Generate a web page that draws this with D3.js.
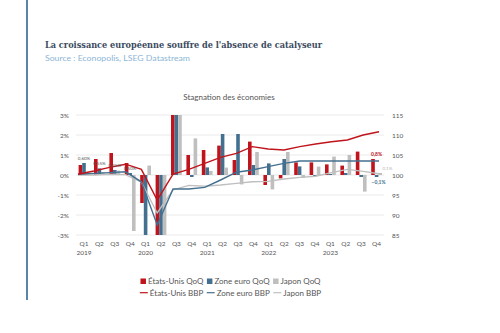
<!DOCTYPE html>
<html><head><meta charset="utf-8">
<script src="https://cdn.jsdelivr.net/npm/d3@7"></script>
<style>html,body{margin:0;padding:0;background:#fff}</style>
</head><body>
<script>
const quarters = ["Q1","Q2","Q3","Q4","Q1","Q2","Q3","Q4","Q1","Q2","Q3","Q4","Q1","Q2","Q3","Q4","Q1","Q2","Q3","Q4"];
const years = ["2019","","","","2020","","","","2021","","","","2022","","","","2023","","",""];
const usQoQ = [0.5,0.8,1.1,0.6,-1.4,-7.9,7.8,1.0,1.25,1.47,0.75,1.67,-0.5,-0.17,0.63,0.63,0.53,0.47,1.17,0.8];
const ezQoQ = [0.6,0.33,0.25,0.1,-3.7,-11.6,12.5,-0.1,0.38,2.05,2.05,0.5,0.58,0.8,0.43,-0.05,0.05,0.1,-0.1,-0.1];
const jpQoQ = [0.13,0.15,0.22,-2.8,0.47,-7.9,5.3,1.83,0.2,0.37,-0.47,1.15,-0.72,1.15,-0.15,0.42,0.92,1.0,-0.83,0.1];
const usBBP = [100.2,101.0,101.9,102.7,101.4,93.75,100.2,101.4,102.9,104.4,105.4,107.1,106.5,106.25,107.1,107.75,108.3,108.75,110.0,110.8];
const ezBBP = [100.2,100.4,100.6,100.8,98.3,87.5,96.5,96.5,96.9,98.75,100.7,101.25,102.1,102.9,103.5,103.5,103.5,103.5,103.5,103.5];
const jpBBP = [100.0,100.0,100.2,100.1,98.2,90.5,96.3,97.4,97.2,97.5,97.9,98.3,98.4,99.0,99.4,99.7,100.6,101.4,100.9,100.3];
const leftTicks = [-3,-2,-1,0,1,2,3];
const rightTicks = [85,90,95,100,105,110,115];
const earlyLabels = ["0,60%","0,55%","0,45%","0,50%"];
const seriesBar = ["États-Unis QoQ","Zone euro QoQ","Japon QoQ"];
const seriesLine = ["États-Unis BBP","Zone euro BBP","Japon BBP"];
const colors = ["#c0141c","#44708f","#bfbfbf"];

const W=500,H=333;
const svg=d3.select("body").append("svg").attr("width",W).attr("height",H).style("font-family","Lato, 'Open Sans', sans-serif");
svg.append("rect").attr("width",W).attr("height",H).attr("fill","#fff");
svg.append("line").attr("x1",27).attr("x2",27).attr("y1",0).attr("y2",300).attr("stroke","#5a85a8").attr("stroke-width",2);

const t=svg.append("text").attr("x",45).attr("y",48).text("La croissance européenne souffre de l'absence de catalyseur")
  .attr("font-family","'DejaVu Serif', serif").attr("font-weight","bold").attr("font-size",10).attr("fill","#3a4a5e");
t.attr("textLength",277).attr("lengthAdjust","spacingAndGlyphs");
svg.append("text").attr("x",45).attr("y",61).text("Source : Econopolis, LSEG Datastream")
  .attr("font-size",7).attr("fill","#8db6d6").attr("textLength",145).attr("lengthAdjust","spacingAndGlyphs");

svg.append("text").attr("x",229).attr("y",100).attr("text-anchor","middle").text("Stagnation des économies")
  .attr("font-size",8).attr("fill","#555");

const idx=d3.range(quarters.length);
const x=d3.scaleBand().domain(idx).range([76.3,384.3]).paddingInner(0.3).paddingOuter(0.15);
const x1=d3.scaleBand().domain([0,1,2]).range([0,x.bandwidth()]);
const xp=d3.scalePoint().domain(idx).range([78,379]);
const yL=d3.scaleLinear().domain([-3,3]).range([235,115]).clamp(true);
const yR=d3.scaleLinear().domain([85,115]).range([235,115]);

// grid
svg.append("g").selectAll("line").data(leftTicks).join("line")
  .attr("x1",76).attr("x2",384).attr("y1",d=>yL(d)).attr("y2",d=>yL(d)).attr("stroke","#e4e4e4").attr("stroke-width",0.8);

const la=svg.append("g").attr("transform","translate(76,0)").call(d3.axisLeft(yL).tickValues(leftTicks).tickFormat(d=>d+"%").tickSize(0).tickPadding(7));
la.select(".domain").remove();
la.selectAll("text").attr("font-size",6.5).attr("fill","#555").attr("font-family","Lato, sans-serif");
const ra=svg.append("g").attr("transform","translate(384,0)").call(d3.axisRight(yR).tickValues(rightTicks).tickSize(0).tickPadding(8));
ra.select(".domain").remove();
ra.selectAll("text").attr("font-size",6.5).attr("fill","#555").attr("font-family","Lato, sans-serif");

// bars
const barSeries=[usQoQ,ezQoQ,jpQoQ];
barSeries.forEach((s,k)=>{
  svg.append("g").selectAll("rect").data(s).join("rect")
    .attr("x",(d,i)=>x(i)+x1(k)).attr("width",x1.bandwidth())
    .attr("y",d=>Math.min(yL(d),yL(0))).attr("height",d=>Math.abs(yL(d)-yL(0)))
    .attr("fill",colors[k]);
});

// lines
const lineSeries=[usBBP,ezBBP,jpBBP];
[2,1,0].forEach(k=>{
  svg.append("path").datum(lineSeries[k]).attr("fill","none").attr("stroke",colors[k]).attr("stroke-width",1.4)
    .attr("d",d3.line().x((d,i)=>xp(i)).y(d=>yR(d)));
});

// labels
svg.append("g").selectAll("text").data(earlyLabels).join("text")
  .attr("x",(d,i)=>x(i)+x.bandwidth()/2).attr("y",(d,i)=>yL(ezQoQ[i])-3).attr("text-anchor","middle")
  .attr("font-size",4.5).attr("fill","#555").text(d=>d);
const fmt=v=>d3.format(".1f")(v).replace(".",",").replace("-","-")+"%";
const L=quarters.length-1;
svg.append("text").attr("x",x(L)+x.bandwidth()/2).attr("y",yL(usQoQ[L])-3).attr("text-anchor","middle")
  .attr("font-size",5).attr("font-weight","bold").attr("fill",colors[0]).text(fmt(usQoQ[L]));
svg.append("text").attr("x",x(L)+x.bandwidth()+0.5).attr("y",yL(jpQoQ[L])-3.5)
  .attr("font-size",4.5).attr("fill","#b8b8b8").text(fmt(jpQoQ[L]));
svg.append("text").attr("x",x(L)+x.bandwidth()/2+2).attr("y",yL(ezQoQ[L])+7).attr("text-anchor","middle")
  .attr("font-size",5).attr("font-weight","bold").attr("fill",colors[1]).text(fmt(ezQoQ[L]));

// x axis labels
svg.append("g").selectAll("text").data(quarters).join("text")
  .attr("x",(d,i)=>x(i)+x.bandwidth()/2).attr("y",246).attr("text-anchor","middle")
  .attr("font-size",6.5).attr("fill","#555").text(d=>d);
svg.append("g").selectAll("text").data(years).join("text")
  .attr("x",(d,i)=>x(i)+x.bandwidth()/2).attr("y",255).attr("text-anchor","middle")
  .attr("font-size",6.5).attr("fill","#555").text(d=>d);

// legend
function legendRow(names,y,type){
  const g=svg.append("g");
  let cx=0;
  names.forEach((n,k)=>{
    if(type==="rect") g.append("rect").attr("x",cx).attr("y",y-5.5).attr("width",5.5).attr("height",5.5).attr("fill",colors[k]);
    else g.append("line").attr("x1",cx).attr("x2",cx+8).attr("y1",y-2.8).attr("y2",y-2.8).attr("stroke",colors[k]).attr("stroke-width",1.2);
    cx+= type==="rect"?7.5:10;
    const tx=g.append("text").attr("x",cx).attr("y",y).attr("font-size",8).attr("fill","#555").text(n);
    cx+=tx.node().getComputedTextLength()+3.5;
  });
  const w=cx-3.5;
  g.attr("transform",`translate(${230.5-w/2},0)`);
}
legendRow(seriesBar,284,"rect");
legendRow(seriesLine,295.5,"line");
</script>
</body></html>
